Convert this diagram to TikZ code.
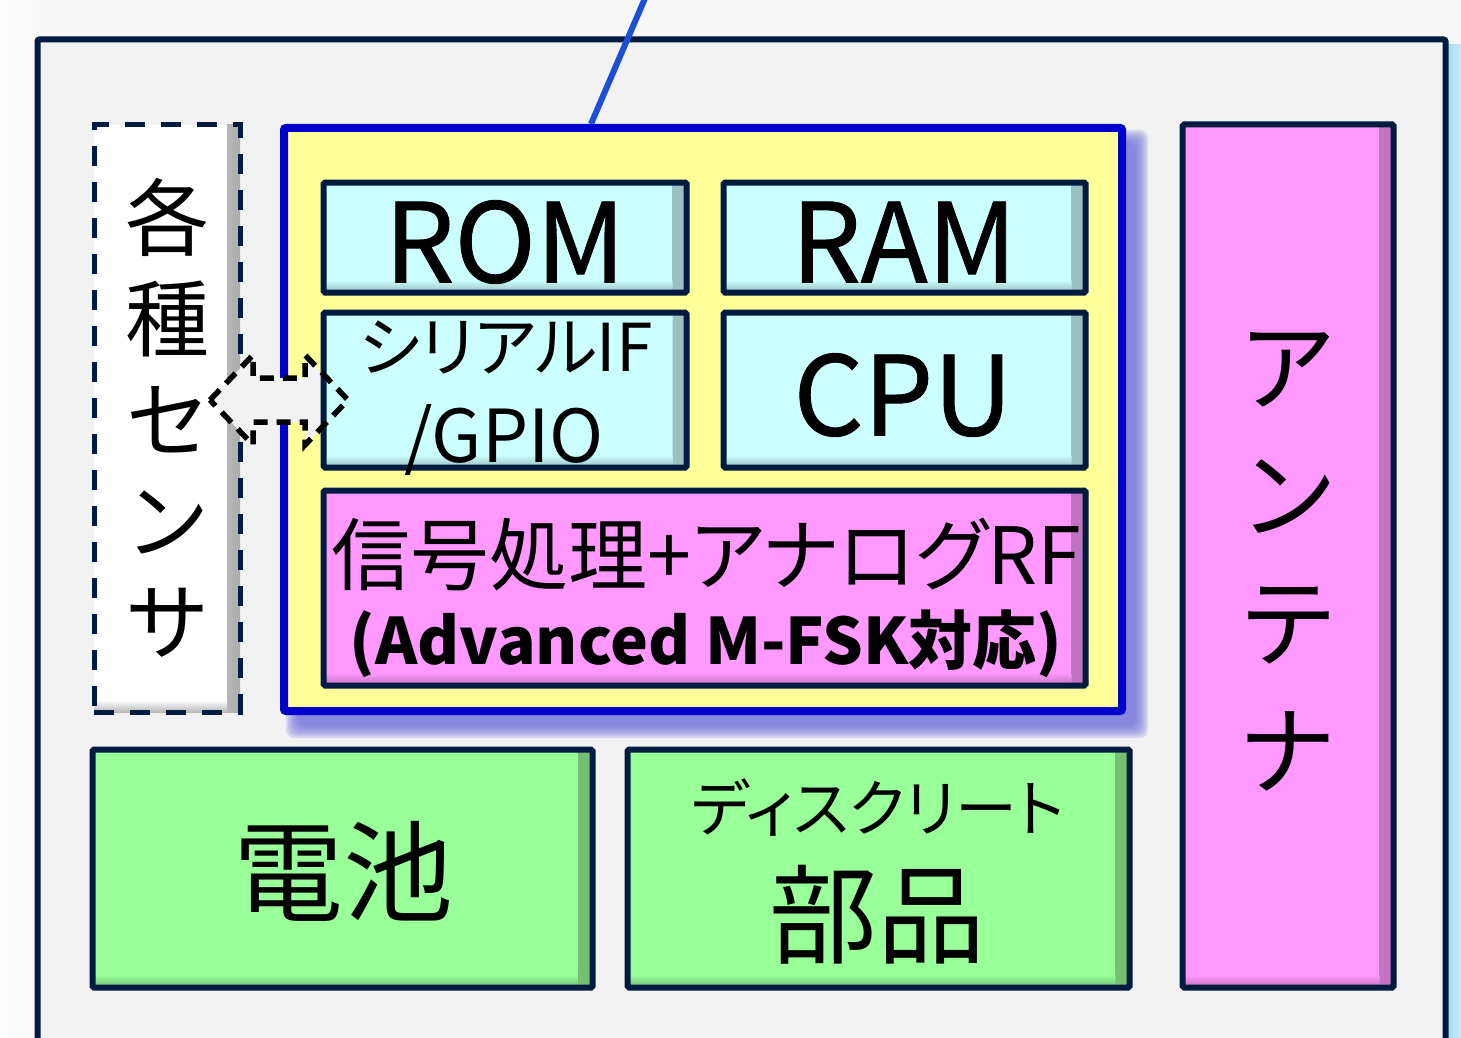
\documentclass[tikz,border=0pt]{standalone}
\usepackage{fontspec}
\setmainfont{Noto Sans CJK JP}[RawFeature=+palt]
\newfontfamily\latf{Noto Sans CJK JP}[FakeBold=0.8]
\usetikzlibrary{calc}
\definecolor{navy}{RGB}{0,26,64}
\definecolor{outerfill}{RGB}{242,242,242}
\definecolor{bgcol}{RGB}{247,247,247}
\definecolor{yelfill}{RGB}{255,255,153}
\definecolor{yelborder}{RGB}{0,0,204}
\definecolor{cyanfill}{RGB}{204,255,255}
\definecolor{pinkfill}{RGB}{255,153,255}
\definecolor{greenfill}{RGB}{153,255,153}
\definecolor{linecol}{RGB}{28,78,214}
\definecolor{shadowblue}{RGB}{110,110,220}
\definecolor{glowblue}{RGB}{165,222,245}
\newcommand\fsz[1]{\fontsize{#1}{#1}\selectfont}
\tikzset{
  bx/.style={draw=navy, line width=6pt, rounded corners=1.5pt, fill=#1, inner sep=0pt,
    path picture={
      \shade[left color=#1, right color=#1!75!black]
        ([xshift=-14pt]path picture bounding box.north east) rectangle (path picture bounding box.south east);
      \shade[top color=#1, bottom color=#1!75!black]
        ([yshift=13pt]path picture bounding box.south west) rectangle ([xshift=-14pt]path picture bounding box.south east);
    }},
  lbl/.style={inner sep=0pt, text=black, align=center},
}
\begin{document}
\begin{tikzpicture}[x=1pt,y=-1pt]
\useasboundingbox (0,0) rectangle (1461,1038);
% background
\fill[bgcol] (0,0) rectangle (1461,1038);
\shade[left color=white, right color=bgcol] (0,0) rectangle (40,1038);
\shade[left color=glowblue, right color=glowblue!60!white] (1448,45) rectangle (1461,1038);
% outer frame
\node[draw=navy, fill=outerfill, line width=6pt, rounded corners=2pt, minimum width=1408pt, minimum height=1070pt, inner sep=0pt] (outer) at (741.5,574.5) {};
% connector line
\coordinate (topend) at (646,-4);
\coordinate (yhit) at (591,124);
\draw[linecol, line width=6pt] (topend) -- (yhit);
% sensor box
\node[draw=navy, fill=white, line width=5pt, dash pattern=on 20pt off 16pt, minimum width=146pt, minimum height=587pt, inner sep=0pt,
  path picture={\shade[left color=white, right color=black!32] ([xshift=-13pt]path picture bounding box.north east) rectangle (path picture bounding box.south east);
  \shade[top color=white, bottom color=black!28] ([yshift=12pt]path picture bounding box.south west) rectangle ([xshift=-13pt]path picture bounding box.south east);}] (sensor) at (167,418.5) {};
\node[lbl, font=\fontsize{84}{101}\selectfont] (sensort) at (167,418) {各\\種\\セ\\ン\\サ};
% yellow box shadow
\foreach \i in {0,...,6}{
  \fill[shadowblue, opacity=0.2, rounded corners=8pt] (286+2*\i,130+2*\i) rectangle (1148-2*\i,738-2*\i);
}
\node[draw=yelborder, fill=yelfill, line width=8pt, rounded corners=2pt, minimum width=838pt, minimum height=583pt, inner sep=0pt] (chip) at (703,419.5) {};
% double arrow fill
\fill[outerfill] (210,400) -- (253,355) -- (253,378) -- (305,378) -- (305,355) -- (348,400) -- (305,445) -- (305,422) -- (253,422) -- (253,445) -- cycle;
% inner boxes
\node[bx=cyanfill, minimum width=363pt, minimum height=110pt] (rom) at (505,237.5) {};
\node[bx=cyanfill, minimum width=362pt, minimum height=110pt] (ram) at (904.5,237.5) {};
\node[bx=cyanfill, minimum width=363pt, minimum height=155pt] (serial) at (505,390) {};
\node[bx=cyanfill, minimum width=362pt, minimum height=155pt] (cpu) at (904.5,390) {};
\node[bx=pinkfill, minimum width=762pt, minimum height=195pt] (signal) at (704.5,588) {};
\node[bx=pinkfill, minimum width=211pt, minimum height=863pt] (antenna) at (1288,556) {};
\node[bx=greenfill, minimum width=500pt, minimum height=238pt] (battery) at (342.5,868.5) {};
\node[bx=greenfill, minimum width=502pt, minimum height=238pt] (discrete) at (878.5,868.5) {};
% double arrow outline
\draw[black, line width=5.5pt, dash pattern=on 14pt off 9pt, line join=miter] (210,400) -- (253,355) -- (253,378) -- (305,378) -- (305,355) -- (348,400) -- (305,445) -- (305,422) -- (253,422) -- (253,445) -- cycle;
% labels
\node[lbl, font=\latf\fsz{110}] (romt) at (505,242) {ROM};
\node[lbl, font=\latf\fsz{110}] (ramt) at (904,242) {RAM};
\node[lbl, font=\latf\fsz{110}] (cput) at (903,395) {CPU};
\node[lbl, font=\fsz{66}] (serialt1) at (506,348) {シリアルIF};
\node[lbl, font=\fsz{73}] (serialt2) at (504,440) {/GPIO};
\node[lbl, font=\fsz{79}] (signalt1) at (706,555) {信号処理+アナログRF};
\node[lbl, font=\bfseries\fsz{64}] (signalt2) at (706,644) {(Advanced M-FSK対応)};
\node[lbl, font=\fontsize{98}{128}\selectfont] (antennat) at (1288,562) {ア\\ン\\テ\\ナ};
\node[lbl, font=\fsz{110}] (batteryt) at (343,871) {電池};
\node[lbl, font=\fsz{62}] (discretet1) at (878,807) {ディスクリート};
\node[lbl, font=\fsz{108}] (discretet2) at (877,915) {部品};
\end{tikzpicture}
\end{document}
